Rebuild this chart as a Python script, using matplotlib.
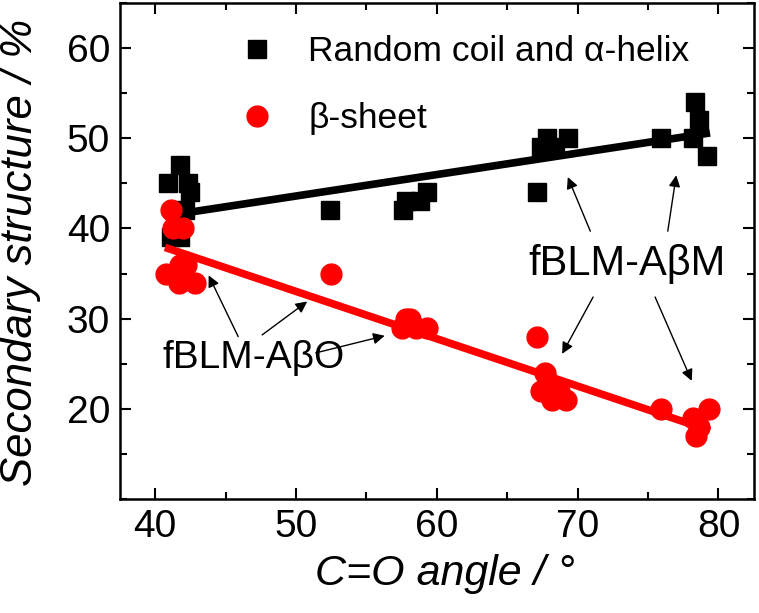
import numpy as np
import matplotlib.pyplot as plt
from matplotlib.ticker import MultipleLocator

plt.rcParams['font.family'] = ['Liberation Sans', 'DejaVu Sans']

# random coil and alpha-helix (black squares)
black_x = [40.9, 41.8, 42.3, 42.5, 42.1, 41.1, 41.8, 52.4, 57.6, 57.8, 58.8, 59.3,
           67.1, 67.4, 67.8, 68.4, 69.3, 75.9, 78.3, 78.6, 78.2, 79.2]
black_y = [45, 47, 45, 44, 42, 39, 39, 42, 42, 43, 43, 44,
           44, 49, 50, 49, 50, 50, 54, 52, 50, 48]

# beta-sheet (red circles)
red_x = [41.1, 41.3, 42.0, 40.8, 41.8, 42.2, 41.7, 42.8, 52.5, 57.8, 58.1, 57.5, 58.5, 59.3,
         67.1, 67.7, 67.9, 67.4, 68.3, 68.2, 69.2, 68.7, 75.9, 78.2, 79.3, 78.4, 78.6]
red_y = [42, 40, 40, 35, 36, 36, 34, 34, 35, 30, 30, 29, 29, 29,
         28, 24, 23, 22, 22, 21, 21, 22, 20, 19, 20, 17, 18]

# linear fits (slope, intercept) and their x range
black_fit = [0.238, 31.7]
red_fit = [-0.525, 59.27]
fit_range = [40.7, 79.4]

bx, by = np.array(black_x), np.array(black_y)
rx, ry = np.array(red_x), np.array(red_y)
xf = np.array(fit_range)

fig = plt.figure(figsize=(7.59, 6.13), dpi=100)
ax = fig.add_axes([0.158, 0.186, 0.835, 0.809])

red = '#ff0000'
ax.plot(bx, by, 's', color='black', ms=13.5, ls='none', label='Random coil and \u03b1-helix', zorder=2)
ax.plot(xf, np.polyval(black_fit, xf), color='black', lw=5.5, solid_capstyle='butt', zorder=3)
ax.plot(rx, ry, 'o', color=red, ms=15, ls='none', label='\u03b2-sheet', zorder=4)
ax.plot(xf, np.polyval(red_fit, xf), color=red, lw=5.5, solid_capstyle='butt', zorder=5)

ax.set_xlim(37.5, 82.5)
ax.set_ylim(10, 65)
ax.xaxis.set_major_locator(MultipleLocator(10))
ax.xaxis.set_minor_locator(MultipleLocator(5))
ax.yaxis.set_minor_locator(MultipleLocator(5))
ax.set_yticks([20, 30, 40, 50, 60])
ax.tick_params(which='both', direction='in', top=True, right=True, width=1.5,
               labelsize=28, pad=7)
ax.tick_params(which='major', length=8)
ax.tick_params(which='minor', length=5)
for s in ax.spines.values():
    s.set_linewidth(1.8)

ax.set_xlabel('C=O angle / \u00b0', fontsize=31, style='italic')
ax.xaxis.set_label_coords(0.513, -0.11)
ax.set_ylabel('Secondary structure / %', fontsize=31.5, style='italic')
ax.yaxis.set_label_coords(-0.125, 0.497)

ax.legend(loc='upper left', bbox_to_anchor=(0.188, 0.935), frameon=False, fontsize=25.5,
          borderaxespad=0, borderpad=0, handletextpad=0.95, labelspacing=0.95,
          handlelength=1.0)

ax.text(47.0, 25.6, 'fBLM-A\u03b2O', fontsize=28, ha='center', va='center')
ax.text(73.5, 36.1, 'fBLM-A\u03b2M', fontsize=30, ha='center', va='center')

arrows = [((45.9, 28.0), (43.8, 34.8)), ((47.6, 28.2), (50.8, 31.9)), ((51.4, 26.2), (56.3, 28.1)),
          ((70.9, 39.7), (69.3, 45.7)), ((76.4, 39.7), (77.0, 45.9)),
          ((71.1, 32.4), (68.9, 26.1)), ((75.5, 32.4), (78.1, 23.1))]
for tail, head in arrows:
    ax.annotate('', xy=head, xytext=tail,
                arrowprops=dict(arrowstyle='-|>', color='black', lw=1.0, mutation_scale=17,
                                shrinkA=0, shrinkB=0))

fig.savefig('out.png', dpi=100)
